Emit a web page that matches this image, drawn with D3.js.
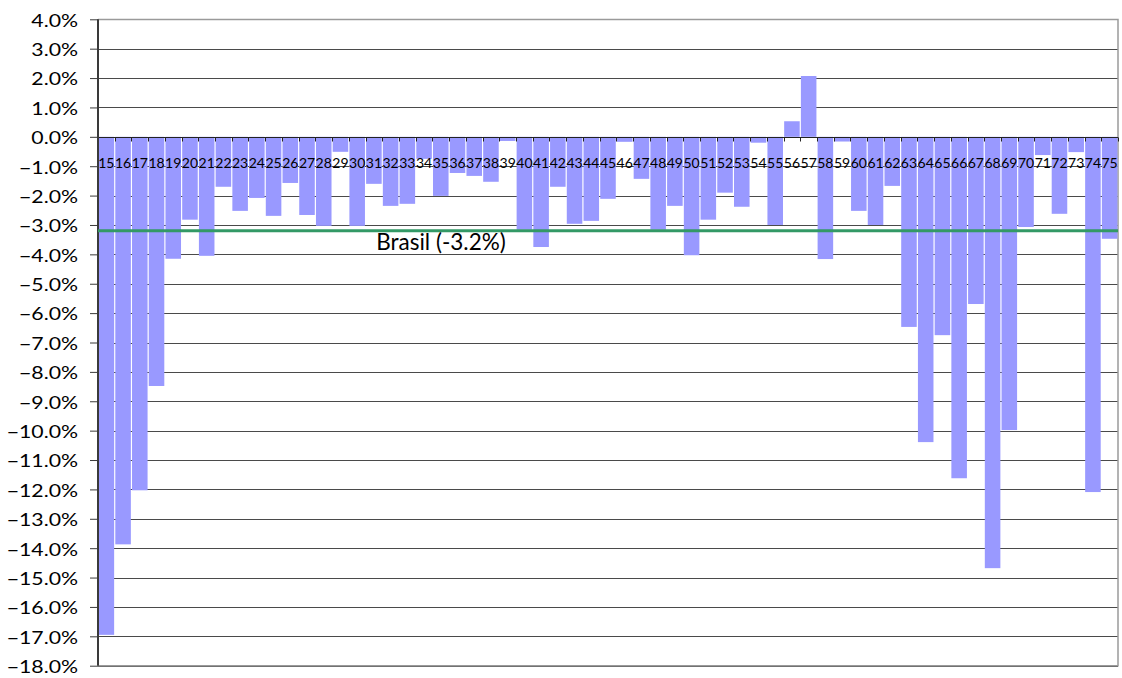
<!DOCTYPE html>
<html>
<head>
<meta charset="utf-8">
<script src="https://cdn.jsdelivr.net/npm/d3@7"></script>
<style>
  html, body { margin: 0; padding: 0; background: #fff; }
  svg { display: block; font-family: Lato, "Open Sans", sans-serif; }
</style>
</head>
<body>
<svg id="chart" width="1122" height="678"></svg>
<script>
// Category codes along the x axis
const categories = d3.range(15, 76).map(String);

// Percentage change per category (in %)
const values = [
  -16.95, -13.87, -12.03, -8.48, -4.15, -2.82, -4.05, -1.70, -2.52, -2.08,
  -2.69, -1.57, -2.66, -3.03, -0.51, -3.03, -1.60, -2.35, -2.28, -0.75,
  -2.01, -1.23, -1.33, -1.53, -0.14, -3.16, -3.75, -1.70, -2.96, -2.86,
  -2.11, -0.17, -1.43, -3.16, -2.35, -4.03, -2.82, -1.90, -2.38, -0.20,
  -3.00, 0.53, 2.07, -4.16, -0.16, -2.52, -3.00, -1.67, -6.47, -10.39,
  -6.75, -11.62, -5.69, -14.68, -9.98, -3.07, -0.62, -2.62, -0.52, -12.09,
  -3.47
];

// Reference line: national figure
const referenceValue = -3.2;
const referenceLabel = "Brasil (-3.2%)";

// Y axis ticks (in %)
const yTicks = d3.range(4, -18.5, -1);

const svg = d3.select("#chart");
const plotLeft = 98, plotRight = 1118, plotTop = 19.3, plotBottom = 665.7;

const x = d3.scaleBand()
  .domain(categories)
  .range([plotLeft, plotRight])
  .paddingInner(0.07)
  .paddingOuter(0.035);

const y = d3.scaleLinear().domain([4, -18]).range([plotTop, plotBottom]);
const crisp = v => Math.round(v) + 0.5;

// Horizontal gridlines
svg.append("g")
  .selectAll("line")
  .data(yTicks)
  .join("line")
  .attr("x1", plotLeft).attr("x2", plotRight)
  .attr("y1", d => crisp(y(d))).attr("y2", d => crisp(y(d)))
  .attr("stroke", "#4a4a4a")
  .attr("stroke-width", 1);

// Plot area border (right and bottom)
svg.append("path")
  .attr("d", `M${plotLeft},${crisp(y(4))}H${plotRight}V${plotBottom}H${plotLeft}`)
  .attr("fill", "none")
  .attr("stroke", "#9a9a9a")
  .attr("stroke-width", 1.5);

// Bars
svg.append("g")
  .selectAll("rect")
  .data(values)
  .join("rect")
  .attr("x", (d, i) => x(categories[i]))
  .attr("width", x.bandwidth())
  .attr("y", d => y(Math.max(0, d)))
  .attr("height", d => Math.abs(y(d) - y(0)))
  .attr("fill", "#9999ff");

// Category axis along the zero line
const xAxis = svg.append("g").attr("transform", `translate(0,${crisp(y(0))})`);
xAxis.append("line")
  .attr("x1", plotLeft).attr("x2", plotRight)
  .attr("stroke", "#222").attr("stroke-width", 1);
const bandEdge = i => Math.round(plotLeft + i * (plotRight - plotLeft) / categories.length) + 0.5;
xAxis.selectAll("line.tick")
  .data(d3.range(categories.length + 1))
  .join("line")
  .attr("class", "tick")
  .attr("x1", bandEdge)
  .attr("x2", bandEdge)
  .attr("y1", 0).attr("y2", 4)
  .attr("stroke", "#222");
xAxis.selectAll("text")
  .data(categories)
  .join("text")
  .attr("x", d => x(d) + x.bandwidth() / 2)
  .attr("y", 30)
  .attr("text-anchor", "middle")
  .attr("font-size", 14)
  .attr("fill", "#000")
  .text(d => d);

// Value axis on the left
const yAxis = d3.axisLeft(y)
  .tickValues(yTicks)
  .tickSize(8)
  .tickPadding(12)
  .tickFormat(d => d3.format(".1f")(d) + "%");
const gy = svg.append("g")
  .attr("transform", `translate(${plotLeft},0)`)
  .call(yAxis);
gy.select(".domain").attr("stroke", "#3a3a3a").attr("stroke-width", 2)
  .attr("d", `M0,${plotTop}V${plotBottom}`);
gy.selectAll(".tick line").attr("stroke", "#3a3a3a");
gy.selectAll(".tick text")
  .attr("font-family", "Lato, 'Open Sans', sans-serif")
  .attr("font-size", 18)
  .attr("fill", "#000")
  .attr("x", -20 / 1.18)
  .attr("dy", "0.38em")
  .attr("transform", "scale(1.18,1)");

// Reference line
svg.append("line")
  .attr("x1", plotLeft).attr("x2", plotRight)
  .attr("y1", y(referenceValue)).attr("y2", y(referenceValue))
  .attr("stroke", "#339966")
  .attr("stroke-width", 3);

svg.append("text")
  .attr("x", 441)
  .attr("y", 250)
  .attr("text-anchor", "middle")
  .attr("font-size", 22.5)
  .attr("fill", "#000")
  .text(referenceLabel);
</script>
</body>
</html>
